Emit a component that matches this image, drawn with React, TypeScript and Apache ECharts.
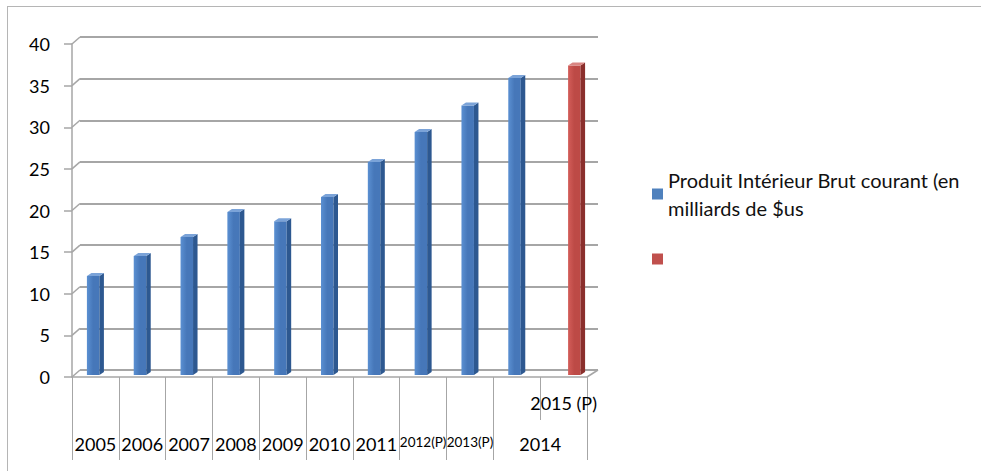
import React, { useEffect, useRef } from "react";
import * as echarts from "echarts";

// ---- data ----
const categories = ["2005", "2006", "2007", "2008", "2009", "2010", "2011", "2012(P)", "2013(P)", "2014", "2015 (P)"];
const levelOneLabels = ["", "", "", "", "", "", "", "", "", "", "2015 (P)"];
const groupLabels = ["2005", "2006", "2007", "2008", "2009", "2010", "2011", "2012(P)", "2013(P)", "2014"];
const groupSpans = [1, 1, 1, 1, 1, 1, 1, 1, 1, 2];
const condensedGroups = ["2012(P)", "2013(P)"];
const gdpValues = [12.0, 14.4, 16.7, 19.7, 18.6, 21.5, 25.7, 29.3, 32.5, 35.8, null];
const projectionValues = [null, null, null, null, null, null, null, null, null, null, 37.3];
const yTicks = [0, 5, 10, 15, 20, 25, 30, 35, 40];
const seriesName = "Produit Intérieur Brut courant (en\nmilliards de $us";
const projectionName = " ";

// ---- derived group boundaries / centres ----
const groupBounds: number[] = [0];
const groupCenters: number[] = [];
groupSpans.forEach((s, i) => {
  const start = groupBounds[i];
  groupBounds.push(start + s);
  groupCenters.push(start + s / 2);
});

const FONT = "Lato, 'Open Sans', sans-serif";
const GRID_COLOR = "#a6a6a6";
const DEPTH_X = 8;
const DEPTH_Y = -7;

function makeBarRenderer(light: string, front: string, side: string, topC: string, shiftX: number) {
  return (params: any, api: any) => {
    const idx = api.value(0);
    const v = api.value(1);
    if (v == null || isNaN(v)) return null;
    const base = api.coord([idx, 0]);
    const top = api.coord([idx, v]);
    const fw = 12.5;
    const sw = 4.5;
    const d = 3;
    const cx = base[0] + shiftX;
    const left = cx - 8.5;
    const fr = left + fw;
    const by = base[1] - 2;
    const ty = top[1] - 1;
    return {
      type: "group",
      children: [
        {
          type: "rect",
          shape: { x: left, y: ty, width: fw, height: by - ty },
          style: {
            fill: new echarts.graphic.LinearGradient(0, 0, 1, 0, [
              { offset: 0, color: light },
              { offset: 0.5, color: front },
              { offset: 1, color: front },
            ]),
          },
        },
        {
          type: "polygon",
          shape: { points: [[fr, ty], [fr + sw, ty - d], [fr + sw, by - d], [fr, by]] },
          style: { fill: side },
        },
        {
          type: "polygon",
          shape: { points: [[left, ty], [fr, ty], [fr + sw, ty - d], [left + sw, ty - d]] },
          style: { fill: topC },
        },
      ],
    };
  };
}

export default function App() {
  const ref = useRef<HTMLDivElement>(null);

  useEffect(() => {
    if (!ref.current) return;
    const chart = echarts.init(ref.current, undefined, { renderer: "svg" });

    const option: any = {
      animation: false,
      backgroundColor: "transparent",
      textStyle: { fontFamily: FONT },
      grid: [
        { left: 72, top: 44, width: 515, height: 333 },
        { left: 80, top: 37, width: 518, height: 333 },
      ],
      legend: {
        orient: "vertical",
        left: 652,
        top: 152,
        padding: 0,
        itemWidth: 11,
        itemHeight: 11,
        itemGap: 9,
        icon: "rect",
        textStyle: { fontFamily: FONT, fontSize: 20, color: "#111", lineHeight: 28, padding: [28, 0, 0, 0] },
        data: [
          { name: seriesName },
          { name: projectionName, textStyle: { padding: 0 } },
        ],
      },
      xAxis: [
        {
          type: "category",
          gridIndex: 0,
          position: "bottom",
          data: categories,
          axisLine: { show: true, lineStyle: { color: GRID_COLOR, width: 1.5 } },
          axisTick: { show: true, interval: 0, length: 43, lineStyle: { color: GRID_COLOR, width: 1 } },
          axisLabel: {
            interval: 0,
            margin: 17,
            fontSize: 18,
            fontFamily: FONT,
            color: "#000",
            formatter: (_v: string, i: number) => levelOneLabels[i],
          },
          splitLine: { show: false },
        },
        {
          type: "value",
          gridIndex: 0,
          position: "bottom",
          min: 0,
          max: categories.length,
          axisLine: { show: false },
          splitLine: { show: false },
          axisTick: {
            show: true,
            customValues: groupBounds,
            length: 83,
            lineStyle: { color: GRID_COLOR, width: 1 },
          },
          axisLabel: {
            show: true,
            customValues: groupCenters,
            margin: 58,
            fontSize: 18,
            fontFamily: FONT,
            color: "#000",
            formatter: (v: number) => {
              const i = groupCenters.findIndex((c) => Math.abs(c - v) < 1e-6);
              if (i < 0) return "";
              const lab = groupLabels[i];
              return condensedGroups.indexOf(lab) >= 0 ? "{n|" + lab + "}" : lab;
            },
            rich: {
              n: {
                fontFamily: FONT,
                fontSize: 13.5,
                color: "#000",
              },
            },
          },
        },
        {
          type: "category",
          gridIndex: 1,
          data: categories,
          show: false,
        },
      ],
      yAxis: [
        {
          type: "value",
          gridIndex: 0,
          min: 0,
          max: 40,
          interval: 5,
          axisLine: { show: true, lineStyle: { color: GRID_COLOR, width: 1.5 } },
          axisTick: { show: true, length: 8, lineStyle: { color: GRID_COLOR, width: 1.5 } },
          axisLabel: { margin: 22, fontSize: 18, fontFamily: FONT, color: "#000" },
          splitLine: { show: false },
        },
        {
          type: "value",
          gridIndex: 1,
          min: 0,
          max: 40,
          interval: 5,
          axisLine: { show: false },
          axisTick: { show: false },
          axisLabel: { show: false },
          splitLine: { show: true, lineStyle: { color: GRID_COLOR, width: 2 } },
        },
      ],
      series: [
        {
          type: "custom",
          name: "frame",
          xAxisIndex: 0,
          yAxisIndex: 0,
          silent: true,
          z: 1,
          data: yTicks.map((v) => [0, v]),
          renderItem: (params: any, api: any) => {
            const v = api.value(1);
            const y = api.coord([0, v])[1];
            const cs = params.coordSys;
            const children: any[] = [
              {
                type: "line",
                shape: { x1: cs.x, y1: y, x2: cs.x + DEPTH_X, y2: y + DEPTH_Y },
                style: { stroke: GRID_COLOR, lineWidth: 1.5 },
              },
            ];
            if (v === 0) {
              children.push({
                type: "line",
                shape: { x1: cs.x + cs.width, y1: y, x2: cs.x + cs.width + DEPTH_X + 3, y2: y + DEPTH_Y },
                style: { stroke: GRID_COLOR, lineWidth: 1.5 },
              });
            }
            return { type: "group", children };
          },
        },
        {
          type: "custom",
          name: seriesName,
          xAxisIndex: 0,
          yAxisIndex: 0,
          z: 3,
          itemStyle: { color: "#4f81bd" },
          data: gdpValues.map((v, i) => [i, v]).filter((d) => d[1] != null),
          renderItem: makeBarRenderer("#5b90d2", "#4677b9", "#2d5890", "#7ba3d8", 0),
        },
        {
          type: "custom",
          name: projectionName,
          xAxisIndex: 0,
          yAxisIndex: 0,
          z: 3,
          itemStyle: { color: "#c0504d" },
          data: projectionValues.map((v, i) => [i, v]).filter((d) => d[1] != null),
          renderItem: makeBarRenderer("#d35d59", "#bd4a46", "#8a2f2c", "#d98582", 13),
        },
      ],
    };

    chart.setOption(option);
    return () => chart.dispose();
  }, []);

  return (
    <div style={{ position: "fixed", left: 0, top: 0, width: 981, height: 471, background: "#fff" }}>
      <div
        style={{
          position: "absolute",
          left: 7,
          top: 6,
          right: 0,
          bottom: 0,
          borderLeft: "1.5px solid #b5b5b5",
          borderTop: "1.5px solid #b5b5b5",
        }}
      />
      <div ref={ref} style={{ position: "absolute", left: 0, top: 0, width: 981, height: 471 }} />
    </div>
  );
}
